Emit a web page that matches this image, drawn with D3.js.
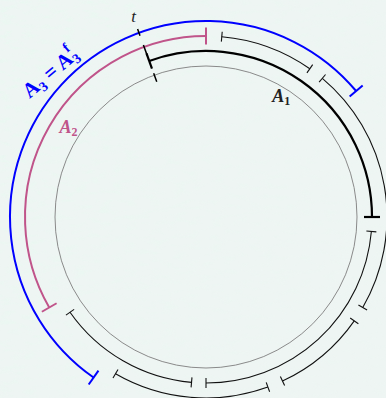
<!DOCTYPE html>
<html>
<head>
<meta charset="utf-8">
<script src="https://cdn.jsdelivr.net/npm/d3@7"></script>
<style>
  html, body { margin: 0; padding: 0; background: #eef5f3; }
  svg { display: block; }
</style>
</head>
<body>
<svg id="chart" width="386" height="398"></svg>
<script>
// Intervals laid out on concentric circles.
// Angles are in degrees, clockwise from 12 o'clock; levels count outward from the base circle.
const levels = [0, 1, 2, 3];
const tAngle = -20;
const intervalA1 = [-20, 90];      // level 1
const intervalA2 = [240, 360];     // level 2
const intervalA3 = [215, 410];     // level 3
const level1Pieces = [[95, 180], [185, 235]];
const level2Pieces = [[5, 35], [40, 120], [125, 155], [160, 210]];
const labelA1 = ["A", "1"];
const labelA2 = ["A", "2"];
const labelA3 = ["A", "3", " = ", "A", "3", "f"];
const labelT = "t";

const W = 386, H = 398, cx = 206, cy = 217;
const svg = d3.select("#chart");

// faint paper texture behind the figure
const defs = svg.append("defs");
const filt = defs.append("filter").attr("id", "paper")
  .attr("x", 0).attr("y", 0).attr("width", "100%").attr("height", "100%");
filt.append("feTurbulence").attr("type", "fractalNoise")
  .attr("baseFrequency", "0.08 0.2").attr("numOctaves", 3).attr("seed", 7);
filt.append("feColorMatrix").attr("type", "matrix")
  .attr("values", "0 0 0 0 0.80  0 0 0 0 0.95  0 0 0 0 0.87  3 0 0 0 -1.45");
const fade = defs.append("linearGradient").attr("id", "fade")
  .attr("x1", 0).attr("y1", 0).attr("x2", 1).attr("y2", 0.6);
fade.append("stop").attr("offset", 0).attr("stop-color", "#fff").attr("stop-opacity", 1);
fade.append("stop").attr("offset", 0.55).attr("stop-color", "#fff").attr("stop-opacity", 0.45);
fade.append("stop").attr("offset", 1).attr("stop-color", "#fff").attr("stop-opacity", 0.15);
defs.append("mask").attr("id", "fadeMask")
  .append("rect").attr("width", W).attr("height", H).attr("fill", "url(#fade)");
svg.append("rect").attr("width", W).attr("height", H).attr("fill", "#eef5f3");
svg.append("rect").attr("width", W).attr("height", H)
  .attr("filter", "url(#paper)").attr("mask", "url(#fadeMask)").attr("opacity", 0.7);

const g = svg.append("g").attr("transform", `translate(${cx},${cy})`);

const angle = d3.scaleLinear().domain([0, 360]).range([0, 2 * Math.PI]);
const radius = d3.scaleLinear().domain([0, 3]).range([151, 196]);

function arcPath(a0, a1, r) {
  const p = d3.path();
  p.arc(0, 0, r, angle(a0) - Math.PI / 2, angle(a1) - Math.PI / 2, false);
  return p.toString();
}
function tickPath(a, r, half) {
  const [x0, y0] = d3.pointRadial(angle(a), r - half);
  const [x1, y1] = d3.pointRadial(angle(a), r + half);
  return `M${x0},${y0}L${x1},${y1}`;
}
function interval(sel, [a0, a1], level, color, width, half, ticks) {
  const r = radius(level);
  sel.append("path").attr("d", arcPath(a0, a1, r))
    .attr("fill", "none").attr("stroke", color).attr("stroke-width", width);
  ticks.forEach(a => sel.append("path").attr("d", tickPath(a, r, half))
    .attr("fill", "none").attr("stroke", color).attr("stroke-width", width));
}

// base circle
g.append("circle").attr("r", radius(levels[0]))
  .attr("fill", "none").attr("stroke", "#8a8a8a").attr("stroke-width", 1);

// thin pieces
level1Pieces.forEach(d => interval(g, d, 1, "#111", 1.1, 5, d));
level2Pieces.forEach(d => interval(g, d, 2, "#111", 1.1, 5, d));

// highlighted intervals
interval(g, intervalA2, 2, "#c0548a", 2, 8.5, intervalA2);
interval(g, intervalA3, 3, "#0000ff", 2, 8.5, intervalA3);
interval(g, intervalA1, 1, "#000", 2.2, 8, intervalA1);

// dashed radial marker at t, drawn from the inside out
{
  const [x0, y0] = d3.pointRadial(angle(tAngle), 144);
  const [x1, y1] = d3.pointRadial(angle(tAngle), 200);
  g.append("line").attr("x1", x0).attr("y1", y0).attr("x2", x1).attr("y2", y1)
    .attr("stroke", "#000").attr("stroke-width", 1.5)
    .attr("stroke-dasharray", "9,19,11,10,7");
}

function polar(a, r) { return d3.pointRadial(angle(a), r); }

function mathLabel(pos, color, opts) {
  return g.append("text")
    .attr("transform", `translate(${pos[0]},${pos[1]}) rotate(${opts.rotate || 0})`)
    .attr("text-anchor", "middle")
    .attr("font-family", "'Liberation Serif', 'DejaVu Serif', serif")
    .attr("font-weight", "bold")
    .attr("font-style", opts.italic ? "italic" : "normal")
    .attr("font-size", opts.size)
    .attr("fill", color);
}

// A1 label
{
  const [x, y] = polar(32, 142);
  const t = mathLabel([x, y + 5], "#222", { size: 18, italic: true });
  t.append("tspan").text(labelA1[0]);
  t.append("tspan").attr("dy", 3).attr("font-size", 12).attr("font-style", "normal").text(labelA1[1]);
}
// A2 label
{
  const [x, y] = polar(303, 164);
  const t = mathLabel([x, y + 5], "#c0548a", { size: 18, italic: true });
  t.append("tspan").text(labelA2[0]);
  t.append("tspan").attr("dy", 3).attr("font-size", 12).attr("font-style", "normal").text(labelA2[1]);
}
// A3 label, set along the outer arc
{
  const [x, y] = polar(313, 207);
  const t = mathLabel([x, y + 2], "#0000ff", { size: 21, rotate: -40 });
  t.append("tspan").text(labelA3[0]);
  t.append("tspan").attr("dy", 4).attr("font-size", 14).text(labelA3[1]);
  t.append("tspan").attr("dy", -4).text(labelA3[2]);
  t.append("tspan").text(labelA3[3]);
  t.append("tspan").attr("dy", 4).attr("font-size", 14).text(labelA3[4]);
  t.append("tspan").attr("dx", -7).attr("dy", -15).attr("font-size", 14).text(labelA3[5]);
}
// t label
{
  const [x, y] = polar(tAngle, 212);
  g.append("text").attr("x", x).attr("y", y + 4)
    .attr("text-anchor", "middle")
    .attr("font-family", "'Liberation Serif', serif")
    .attr("font-style", "italic").attr("font-size", 17)
    .attr("fill", "#222").text(labelT);
}
</script>
</body>
</html>
